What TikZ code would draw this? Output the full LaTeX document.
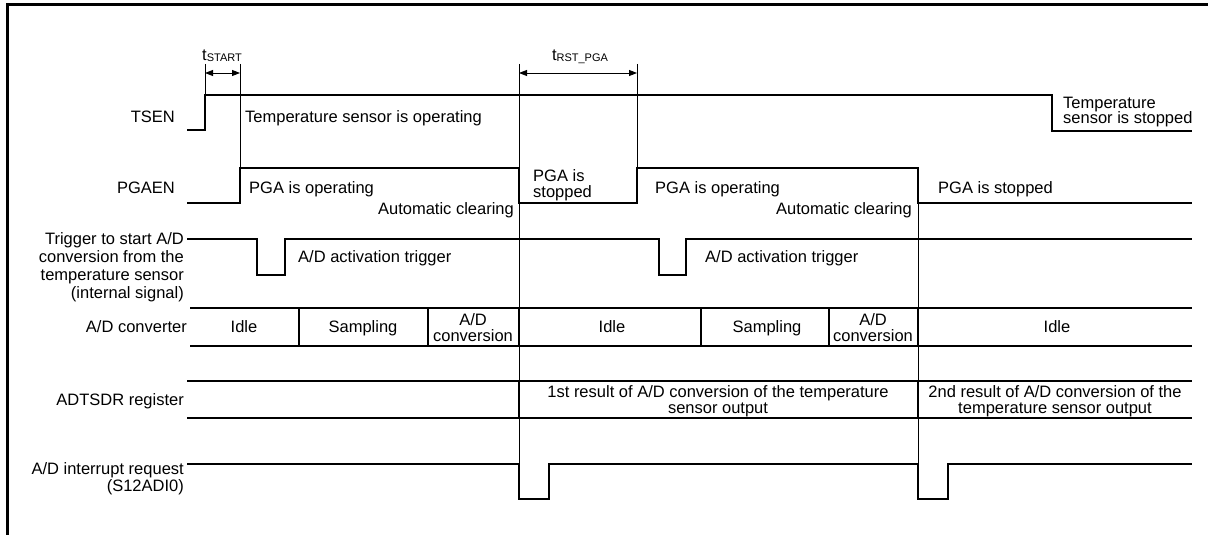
\documentclass[tikz,border=0pt]{standalone}
\usepackage{fontspec}
\setmainfont{Liberation Sans}
\usetikzlibrary{positioning, arrows.meta}

\begin{document}
\begin{tikzpicture}[x=1pt, y=-1pt,
  wave/.style={line width=1.3pt},
  guide/.style={line width=0.9pt},
  rim/.style={line width=3pt},
  txt/.style={font=\fontsize{16.5}{16}\selectfont, inner sep=0pt},
  sig/.style={txt, anchor=base east, align=right},
  note/.style={txt, anchor=base west, align=left},
  cell/.style={txt, anchor=base, align=center},
  dim/.style={{Triangle[length=8pt,width=6pt]}-{Triangle[length=8pt,width=6pt]}, line width=0.9pt}]
  \useasboundingbox (0,0) rectangle (1208,535);
  \draw[rim] (7,535) -- (7,5) -- (1208,5);
  % signal names (multi-line nodes sit on their last line)
  \node[sig] (tsen) at (175,122) {TSEN};
  \node[sig] (pgaen) at (175,193) {PGAEN};
  \node[sig, font=\fontsize{16.5}{18}\selectfont] (trig) at (184,298) {Trigger to start A/D\\conversion from the\\temperature sensor\\(internal signal)};
  \node[sig] (adc) at (187,332) {A/D converter};
  \node[sig, font=\fontsize{16.5}{17}\selectfont] (irq) at (184,491) {A/D interrupt request\\(S12ADI0)};
  \node[sig] (adtsdr) at (184,405) {ADTSDR register};
  % timing marks
  \coordinate (ts0) at (205,73);
  \coordinate (ts1) at (240,73);
  \coordinate (tr0) at (519,73);
  \coordinate (tr1) at (637,73);
  \draw[guide] (205,64) -- (205,95);
  \draw[guide] (240,64) -- (240,168);
  \draw[guide] (519,64) -- (519,499);
  \draw[guide] (637,64) -- (637,168);
  \draw[guide] (918,168) -- (918,499);
  \draw[dim] (ts0) -- (ts1);
  \draw[dim] (tr0) -- (tr1);
  \node[txt, anchor=base] (tstart) at (222,60) {t\raisebox{-1.5pt}{\fontsize{11}{11}\selectfont START}};
  \node[txt, anchor=base] (trst) at (580,60) {t\raisebox{-1.5pt}{\fontsize{11}{11}\selectfont RST\_PGA}};
  % waveforms
  \draw[wave] (187,130) -- (205,130) -- (205,95) -- (1052,95) -- (1052,131) -- (1192,131);
  \draw[wave] (187,203) -- (240,203) -- (240,168) -- (519,168) -- (519,203) -- (637,203)
    -- (637,168) -- (918,168) -- (918,203) -- (1192,203);
  \draw[wave] (187,239) -- (257,239) -- (257,275) -- (285,275) -- (285,239) -- (659,239)
    -- (659,275) -- (686,275) -- (686,239) -- (1192,239);
  \draw[wave] (190,308) -- (1192,308) (190,346) -- (1192,346);
  \foreach \x in {299,428,519,701,829,918}
    \draw[wave] (\x,308) -- (\x,346);
  \draw[wave] (187,381) -- (1192,381) (187,418) -- (1192,418);
  \foreach \x in {519,918}
    \draw[wave] (\x,381) -- (\x,418);
  \draw[wave] (187,464) -- (519,464) -- (519,499) -- (549,499) -- (549,464) -- (918,464)
    -- (918,499) -- (948,499) -- (948,464) -- (1192,464);
  % state labels
  \node[note] (tsop) at (245,122) {Temperature sensor is operating};
  \node[note] (tsoff) at (1063,124) {Temperature\\sensor is stopped};
  \node[note] (pgaon1) at (249,193) {PGA is operating};
  \node[txt, anchor=base east] (clr1) at (514,214) {Automatic clearing};
  \node[note] (pgaoff1) at (533,197) {PGA is\\stopped};
  \node[note] (pgaon2) at (655,193) {PGA is operating};
  \node[txt, anchor=base east] (clr2) at (912,214) {Automatic clearing};
  \node[note] (pgaoff2) at (938,193) {PGA is stopped};
  \node[note] (act1) at (298,262) {A/D activation trigger};
  \node[note] (act2) at (705,262) {A/D activation trigger};
  % bus contents
  \node[cell] (idle1) at (244,332) {Idle};
  \node[cell] (samp1) at (363,332) {Sampling};
  \node[cell] (conv1) at (473,341) {A/D\\conversion};
  \node[cell] (idle2) at (612,332) {Idle};
  \node[cell] (samp2) at (767,332) {Sampling};
  \node[cell] (conv2) at (873,341) {A/D\\conversion};
  \node[cell] (idle3) at (1057,332) {Idle};
  \node[cell] (res1) at (718,413) {1st result of A/D conversion of the temperature\\sensor output};
  \node[cell] (res2) at (1055,413) {2nd result of A/D conversion of the\\temperature sensor output};
\end{tikzpicture}
\end{document}
